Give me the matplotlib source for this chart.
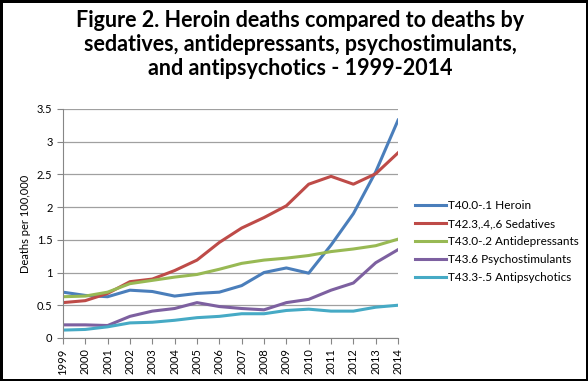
import matplotlib.pyplot as plt

years = list(range(1999, 2015))

heroin = [0.70, 0.65, 0.63, 0.73, 0.71, 0.64, 0.68, 0.70, 0.80, 1.00, 1.07, 0.99, 1.42, 1.90, 2.54, 3.33]
sedatives = [0.54, 0.57, 0.68, 0.86, 0.90, 1.03, 1.19, 1.46, 1.68, 1.84, 2.02, 2.35, 2.47, 2.35, 2.51, 2.83]
antidepressants = [0.63, 0.64, 0.70, 0.83, 0.88, 0.93, 0.97, 1.05, 1.14, 1.19, 1.22, 1.26, 1.32, 1.36, 1.41, 1.51]
psychostimulants = [0.20, 0.20, 0.19, 0.33, 0.41, 0.45, 0.54, 0.48, 0.45, 0.43, 0.54, 0.59, 0.73, 0.84, 1.15, 1.35]
antipsychotics = [0.12, 0.13, 0.17, 0.23, 0.24, 0.27, 0.31, 0.33, 0.37, 0.37, 0.42, 0.44, 0.41, 0.41, 0.47, 0.50]

labels = ["T40.0-.1 Heroin", "T42.3,.4,.6 Sedatives", "T43.0-.2 Antidepressants",
          "T43.6 Psychostimulants", "T43.3-.5 Antipsychotics"]
colors = ["#4A7EBB", "#BE4B48", "#98B954", "#7D60A0", "#46AAC5"]

plt.rcParams['font.family'] = ['Lato', 'DejaVu Sans']

fig = plt.figure(figsize=(5.88, 3.81), dpi=100, edgecolor='black', linewidth=2.5)
ax = fig.add_axes([0.107, 0.113, 0.57, 0.601])

for series, lab, col in zip([heroin, sedatives, antidepressants, psychostimulants, antipsychotics],
                            labels, colors):
    ax.plot(years, series, color=col, linewidth=2.2, label=lab)

ax.set_xlim(1999, 2014)
ax.set_ylim(0, 3.5)
ax.set_yticks([0, 0.5, 1, 1.5, 2, 2.5, 3, 3.5])
ax.set_yticklabels(["0", "0.5", "1", "1.5", "2", "2.5", "3", "3.5"])
ax.set_xticks(years)
ax.set_xticklabels([str(y) for y in years], rotation=90)
ax.tick_params(axis='both', labelsize=8, color='#868686', direction='out', length=4)
ax.grid(axis='y', color='#a0a0a0', linewidth=0.9)
ax.set_axisbelow(True)
for s in ['top', 'right']:
    ax.spines[s].set_visible(False)
for s in ['left', 'bottom']:
    ax.spines[s].set_color('#868686')
ax.set_ylabel("Deaths per 100,000", fontsize=8)

ax.legend(loc='center left', bbox_to_anchor=(1.02, 0.42), frameon=False, fontsize=8.5,
          handlelength=2.6, handletextpad=0.2, labelspacing=0.6)

fig.text(0.51, 0.975, "Figure 2. Heroin deaths compared to deaths by\n"
         "sedatives, antidepressants, psychostimulants,\nand antipsychotics - 1999-2014",
         ha='center', va='top', fontsize=15.5, fontweight='bold', linespacing=1.2)

fig.savefig("out.png", dpi=100)
